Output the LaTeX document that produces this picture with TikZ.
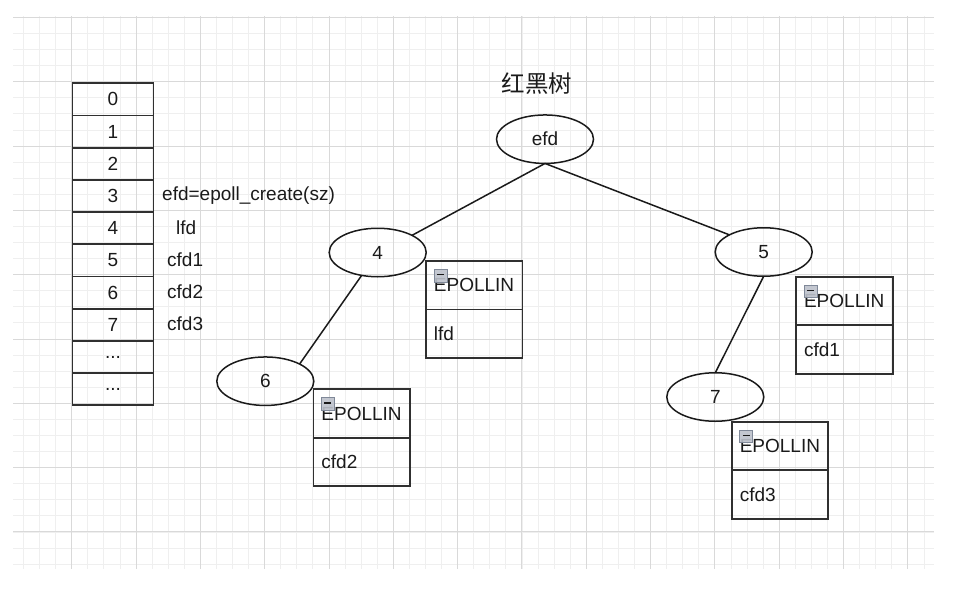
\documentclass[tikz,border=0pt]{standalone}
\usepackage{fontspec}
\usetikzlibrary{shapes.geometric}
\setmainfont{Liberation Sans}
\newfontfamily\cjk{Noto Sans CJK SC}
\definecolor{gridminor}{HTML}{EFEFEF}
\definecolor{gridmajor}{HTML}{D9D9D9}
\definecolor{ink}{HTML}{1A1A1A}
\definecolor{boxline}{HTML}{303030}
\definecolor{iconfill}{HTML}{BCC1CB}
\definecolor{iconline}{HTML}{7F8898}
\def\celldots{...}
\tikzset{
  txt/.style={font=\fontsize{19}{23}\selectfont, text=ink},
  cell/.style={txt, draw=boxline, line width=1.9pt, minimum width=81pt, minimum height=32.2pt, inner sep=0pt, outer sep=0pt},
  lbl/.style={txt, anchor=west, inner sep=0pt},
  oval/.style={txt, ellipse, draw=ink, line width=1.5pt, minimum width=97pt, minimum height=48.5pt, inner sep=0pt, outer sep=0pt},
  epbox/.style={txt, draw=boxline, line width=1.9pt, text width=80.5pt, inner xsep=8pt, inner ysep=0pt, outer sep=0pt, minimum height=48.5pt, align=left},
  icon/.style={draw=iconline, fill=iconfill, line width=0.9pt, minimum width=13pt, minimum height=12.5pt, inner sep=0pt, outer sep=0pt, anchor=north west, fill opacity=0.9,
    path picture={\draw[ink, line width=1.4pt] ([xshift=3pt,yshift=1.2pt]path picture bounding box.west) -- ([xshift=-3pt,yshift=1.2pt]path picture bounding box.east);}},
  edge/.style={draw=ink, line width=1.5pt},
}
\begin{document}
\begin{tikzpicture}[x=1pt,y=-1pt]
\useasboundingbox (0,0) rectangle (955,589);
% grid
\foreach \k in {1,...,57}{
  \pgfmathsetmacro\xx{7.4+16.08*\k}
  \draw[gridminor, line width=0.9pt] (\xx,16) -- (\xx,569);
}
\foreach \k in {0,...,34}{
  \pgfmathsetmacro\yy{17.4+16.08*\k}
  \draw[gridminor, line width=0.9pt] (13,\yy) -- (934,\yy);
}
\foreach \k in {4,8,...,56}{
  \pgfmathsetmacro\xx{7.4+16.08*\k}
  \draw[gridmajor, line width=1pt] (\xx,16) -- (\xx,569);
}
\foreach \k in {0,4,...,32}{
  \pgfmathsetmacro\yy{17.4+16.08*\k}
  \draw[gridmajor, line width=1pt] (13,\yy) -- (934,\yy);
}
% table
\foreach \i/\t in {0/0,1/1,2/2,3/3,4/4,5/5,6/6,7/7,8/\celldots,9/\celldots}{
  \node[cell] (r\i) at (113,{99.4+32.2*\i}) {\t};
}
\node[lbl] (l3) at (162,196) {efd=epoll\_create(sz)};
\node[lbl] (l4) at (176,228) {lfd};
\node[lbl] (l5) at (167,260) {cfd1};
\node[lbl] (l6) at (167,292) {cfd2};
\node[lbl] (l7) at (167,324) {cfd3};
% title
\node[text=ink, font=\cjk\fontsize{23.5}{26}\selectfont] (title) at (537,83.5) {红黑树};
% tree
\node[oval] (efd) at (545,139.2) {efd};
\node[oval] (n4) at (377.7,252.5) {4};
\node[oval] (n5) at (763.7,252) {5};
\node[oval] (n6) at (265.3,381.2) {6};
\node[oval] (n7) at (715.3,397) {7};
\draw[edge] (efd.south) -- (n4.north east);
\draw[edge] (efd.south) -- (n5.north west);
\draw[edge] (n4) -- (n6.north east);
\draw[edge] (n5.south) -- (n7.north);
% boxes
\node[epbox] (bAt) at (474.2,285.2) {EPOLLIN};
\node[epbox, anchor=north] (bAb) at (bAt.south) {lfd};
\node[icon] (iA) at ([xshift=8pt,yshift=-8.5pt]bAt.north west) {};
\node[epbox] (bBt) at (361.7,413.5) {EPOLLIN};
\node[epbox, anchor=north] (bBb) at (bBt.south) {cfd2};
\node[icon] (iB) at ([xshift=8pt,yshift=-8.5pt]bBt.north west) {};
\node[epbox] (bCt) at (844.3,301) {EPOLLIN};
\node[epbox, anchor=north] (bCb) at (bCt.south) {cfd1};
\node[icon] (iC) at ([xshift=8pt,yshift=-8.5pt]bCt.north west) {};
\node[epbox] (bDt) at (780,446) {EPOLLIN};
\node[epbox, anchor=north] (bDb) at (bDt.south) {cfd3};
\node[icon] (iD) at ([xshift=8pt,yshift=-8.5pt]bDt.north west) {};
\end{tikzpicture}
\end{document}
